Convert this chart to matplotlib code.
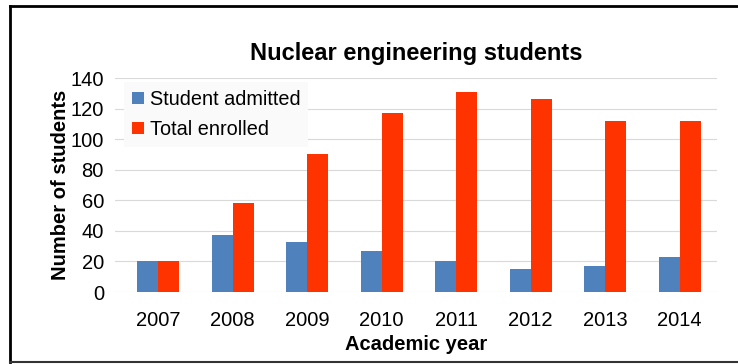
import matplotlib.pyplot as plt
import numpy as np

plt.rcParams['font.family'] = ['Liberation Sans', 'DejaVu Sans']

years = ['2007', '2008', '2009', '2010', '2011', '2012', '2013', '2014']
admitted = [20, 37, 33, 27, 20, 15, 17, 23]
enrolled = [20, 58, 90, 117, 131, 126, 112, 112]

fig = plt.figure(figsize=(7.38, 3.64), dpi=100)
ax = fig.add_axes([115 / 738, 1 - 292 / 364, 602 / 738, 214 / 364])

x = np.arange(len(years))
w = 0.28
ax.bar(x - w / 2, admitted, w, color='#4F81BD', label='Student admitted')
ax.bar(x + w / 2, enrolled, w, color='#FF3300', label='Total enrolled')

ax.set_ylim(0, 140)
ax.set_xlim(-0.58, 7.5)
ax.set_yticks(range(0, 141, 20))
ax.set_xticks(x)
ax.set_xticklabels(years)
ax.tick_params(axis='both', labelsize=14.5, length=0, colors='black')
ax.tick_params(axis='y', pad=8)
ax.tick_params(axis='x', pad=14)
ax.grid(axis='y', color='#d9d9d9', lw=0.8)
ax.set_axisbelow(True)
for s in ax.spines.values():
    s.set_visible(False)

ax.set_title('Nuclear engineering students', fontsize=17, fontweight='bold', pad=13)
ax.set_xlabel('Academic year', fontsize=14.5, fontweight='bold', labelpad=3)
ax.set_ylabel('Number of students', fontsize=14.5, fontweight='bold', labelpad=0)

leg = ax.legend(loc='upper left', bbox_to_anchor=(0.008, 1.0), fontsize=14.3,
                frameon=True, fancybox=False, edgecolor='none',
                facecolor='#fafafa', framealpha=1, handlelength=0.6,
                handleheight=0.6, handletextpad=0.3, labelspacing=0.55,
                borderaxespad=0.2, borderpad=0.4)

# outer frame
fig.add_artist(plt.Line2D([10 / 738, 10 / 738], [1 - 6 / 364, 1 - 362 / 364],
                          color='black', lw=2, transform=fig.transFigure))
fig.add_artist(plt.Line2D([10 / 738, 1], [1 - 6 / 364, 1 - 6 / 364],
                          color='black', lw=2, transform=fig.transFigure))
fig.add_artist(plt.Line2D([10 / 738, 1], [1 - 362 / 364, 1 - 362 / 364],
                          color='#333333', lw=1.5, transform=fig.transFigure))

fig.savefig('out.png', dpi=100)
